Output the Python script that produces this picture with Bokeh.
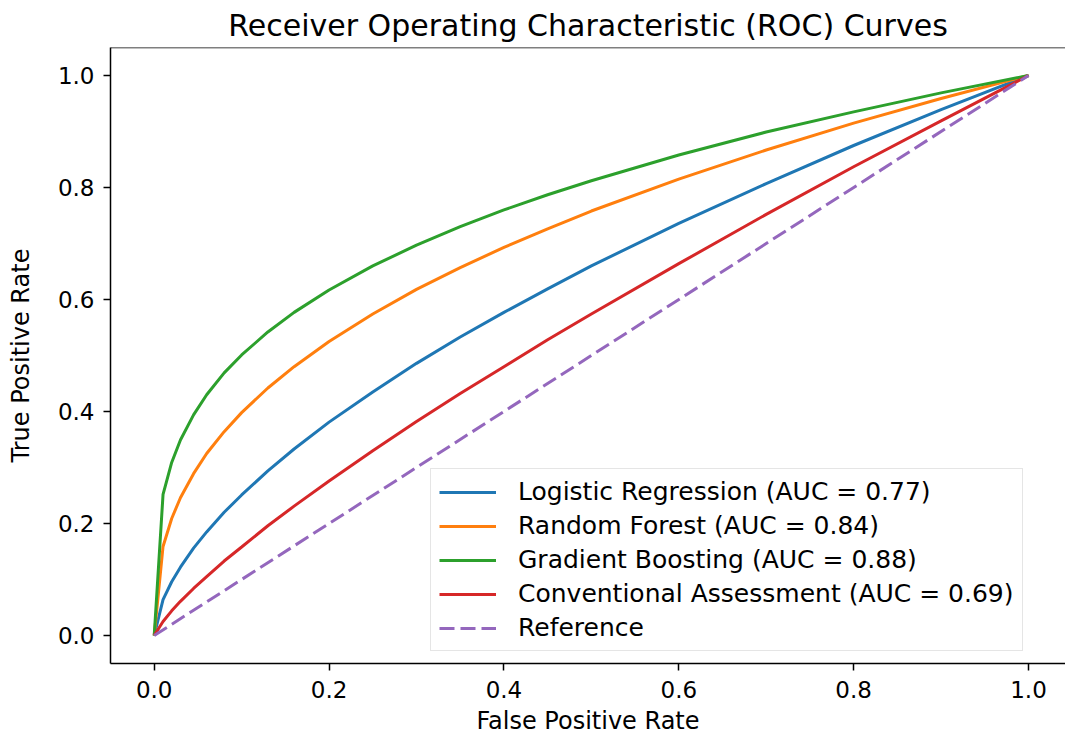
from bokeh.plotting import figure
from bokeh.models import Range1d, Legend, LegendItem, Span, PrintfTickFormatter
from bokeh.embed import file_html
from bokeh.resources import INLINE

# ---- data ----
fpr = [0.0, 0.0101, 0.02, 0.03, 0.045, 0.06, 0.08, 0.1, 0.13, 0.16, 0.2,
       0.25, 0.3, 0.35, 0.4, 0.45, 0.5, 0.6, 0.7, 0.8, 0.9, 1.0]
tpr_lr = [0.0, 0.064, 0.096, 0.122, 0.156, 0.185, 0.220, 0.251, 0.294, 0.333, 0.381,
          0.435, 0.486, 0.533, 0.577, 0.619, 0.660, 0.736, 0.807, 0.875, 0.939, 1.0]
tpr_rf = [0.0, 0.159, 0.209, 0.246, 0.289, 0.325, 0.364, 0.398, 0.442, 0.480, 0.525,
          0.574, 0.618, 0.657, 0.693, 0.726, 0.758, 0.815, 0.867, 0.915, 0.959, 1.0]
tpr_gb = [0.0, 0.252, 0.309, 0.349, 0.394, 0.430, 0.469, 0.501, 0.542, 0.577, 0.617,
          0.660, 0.697, 0.730, 0.760, 0.787, 0.812, 0.858, 0.899, 0.935, 0.969, 1.0]
tpr_ca = [0.0, 0.025, 0.044, 0.061, 0.084, 0.105, 0.133, 0.158, 0.196, 0.231, 0.276,
          0.330, 0.382, 0.432, 0.480, 0.528, 0.574, 0.664, 0.752, 0.837, 0.919, 1.0]
ref_x = [0.0, 1.0]
ref_y = [0.0, 1.0]

model_names = ["Logistic Regression", "Random Forest", "Gradient Boosting", "Conventional Assessment"]
model_auc = [0.77, 0.84, 0.88, 0.69]
model_colors = ["#1f77b4", "#ff7f0e", "#2ca02c", "#d62728"]
ref_color = "#9467bd"
tick_values = [0.0, 0.2, 0.4, 0.6, 0.8, 1.0]

FONT = "DejaVu Sans"

p = figure(width=1065, height=738, output_backend="svg", toolbar_location=None,
           x_range=Range1d(-0.05, 1.0423), y_range=Range1d(-0.05, 1.05),
           min_border_left=110, min_border_right=0, min_border_top=47, min_border_bottom=75,
           background_fill_color="white", border_fill_color="white")
p.outline_line_color = None
p.grid.visible = False

p.title.text = "Receiver Operating Characteristic (ROC) Curves"
p.title.text_font = FONT
p.title.text_font_size = "30px"
p.title.text_font_style = "normal"
p.title.text_color = "black"
p.title.align = "center"
p.title.standoff = 10

for ax in (p.xaxis[0], p.yaxis[0]):
    ax.ticker = tick_values
    ax.formatter = PrintfTickFormatter(format="%.1f")
    ax.minor_tick_line_color = None
    ax.major_tick_in = 0
    ax.major_tick_out = 7
    ax.major_tick_line_width = 1.5
    ax.axis_line_width = 1.5
    ax.axis_line_color = "black"
    ax.major_tick_line_color = "black"
    ax.major_label_text_font = FONT
    ax.major_label_text_font_size = "23px"
    ax.major_label_text_color = "black"
    ax.axis_label_text_font = FONT
    ax.axis_label_text_font_size = "24px"
    ax.axis_label_text_font_style = "normal"
    ax.axis_label_text_color = "black"

p.xaxis[0].axis_label = "False Positive Rate"
p.xaxis[0].major_label_standoff = 10
p.xaxis[0].axis_label_standoff = 6
p.yaxis[0].axis_label = "True Positive Rate"
p.yaxis[0].major_label_standoff = 9
p.yaxis[0].axis_label_standoff = 20

# top spine
p.add_layout(Span(location=1.05, dimension="width", line_color="black", line_width=1.5))

tprs = [tpr_lr, tpr_rf, tpr_gb, tpr_ca]
items = []
for name, auc, col, tpr in zip(model_names, model_auc, model_colors, tprs):
    r = p.line(fpr, tpr, line_color=col, line_width=3)
    items.append(LegendItem(label=f"{name} (AUC = {auc:.2f})", renderers=[r]))
rr = p.line(ref_x, ref_y, line_color=ref_color, line_width=3, line_dash="15 6")
items.append(LegendItem(label="Reference", renderers=[rr]))

legend = Legend(items=items, location=(320, 12))
legend.label_text_font = FONT
legend.label_text_font_size = "25px"
legend.label_text_color = "black"
legend.glyph_width = 57
legend.glyph_height = 28
legend.label_height = 28
legend.label_standoff = 22
legend.spacing = 5
legend.padding = 8
legend.margin = 0
legend.border_line_color = "#cccccc"
legend.border_line_width = 1.5
legend.background_fill_alpha = 0.8
p.add_layout(legend)

open("out.html", "w").write(file_html(p, INLINE))
